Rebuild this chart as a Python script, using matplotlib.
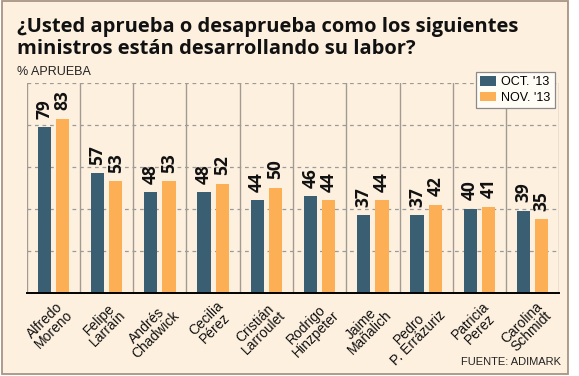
import matplotlib
matplotlib.use("Agg")
import numpy as np
from matplotlib import pyplot as plt
from matplotlib.patches import Rectangle
from matplotlib import transforms

names = ["Alfredo\nMoreno", "Felipe\nLarraín", "Andrés\nChadwick", "Cecilia\nPérez",
         "Cristián\nLarroulet", "Rodrigo\nHinzpeter", "Jaime\nMañalich",
         "Pedro\nP. Errázuriz", "Patricia\nPerez", "Carolina\nSchmidt"]
oct_13 = [79, 57, 48, 48, 44, 46, 37, 37, 40, 39]
nov_13 = [83, 53, 53, 52, 50, 44, 44, 42, 41, 35]
series_labels = ["OCT. '13", "NOV. '13"]

W, H = 579, 376
cream = "#FDF0DF"
teal = "#3B5F72"
orange = "#FCAF55"
narrow = ["Liberation Sans Narrow", "Liberation Sans"]

fig = plt.figure(figsize=(W / 100, H / 100), dpi=100)
fig.patch.set_facecolor("white")

def fx(px):
    return px / W

def fy(py):
    return 1 - py / H

# card background with border
card = Rectangle((fx(1.5), fy(373.5)), fx(568) - fx(1.5), fy(1) - fy(373.5),
                 transform=fig.transFigure, facecolor=cream, edgecolor="#A89484",
                 linewidth=1.3, zorder=-10)
fig.patches.append(card)

ax = fig.add_axes([fx(26.7), fy(292.5), fx(559.3) - fx(26.7), fy(83) - fy(292.5)])
ax.set_facecolor(cream)

x = np.arange(len(names))
bw = 0.25
off = 0.172
b1 = ax.bar(x - off, oct_13, bw, color=teal, zorder=3)
b2 = ax.bar(x + off, nov_13, bw, color=orange, zorder=3)

for bars, vals in [(b1, oct_13), (b2, nov_13)]:
    for rect, v in zip(bars, vals):
        ax.annotate(str(v), (rect.get_x() + rect.get_width() / 2, v),
                    xytext=(0, 6), textcoords="offset points",
                    rotation=90, ha="center", va="bottom",
                    fontsize=12.5, fontweight="bold", family="Open Sans",
                    color="#111111", zorder=4)

ax.set_xlim(-0.5, len(names) - 0.5)
ax.set_ylim(0, 100)

# dashed horizontal grid
for g in [20, 40, 60, 80, 100]:
    ax.axhline(g, color="#9A9A9A", linestyle=(0, (3, 3)), linewidth=0.9, zorder=1)

# vertical separators
for s in np.arange(-0.5, len(names), 1.0):
    ax.axvline(s, color="#A39A92", linewidth=1.0, zorder=2)

for side in ["top", "left", "right"]:
    ax.spines[side].set_visible(False)
ax.spines["bottom"].set_color("black")
ax.spines["bottom"].set_linewidth(1.4)
ax.spines["bottom"].set_zorder(5)
ax.set_xticks([])
ax.set_yticks([])

# rotated category labels
trans = transforms.blended_transform_factory(ax.transData, fig.transFigure)
for i, n in enumerate(names):
    t = ax.text(i, fy(299), n, transform=trans, rotation=45,
                ha="right", va="top", rotation_mode="anchor",
                multialignment="center", fontsize=10, family="Liberation Sans",
                linespacing=0.9, color="#111111")
    t.set_transform(trans + transforms.ScaledTranslation(3 / 100, 0, fig.dpi_scale_trans))

# title
fig.text(fx(17), fy(32), "¿Usted aprueba o desaprueba como los siguientes",
         fontsize=14.5, fontweight="bold", family="Open Sans", va="baseline", color="#111111")
fig.text(fx(17), fy(54), "ministros están desarrollando su labor?",
         fontsize=14.5, fontweight="bold", family="Open Sans", va="baseline", color="#111111")
fig.text(fx(17), fy(75), "% APRUEBA", fontsize=9, family="Liberation Sans",
         va="baseline", color="#222222")
fig.text(fx(561), fy(365), "FUENTE: ADIMARK", fontsize=8, family=narrow,
         ha="right", va="baseline", color="#222222")

leg = fig.legend([b1, b2], series_labels, loc="upper left",
                 bbox_to_anchor=(fx(475.7), fy(71.7)), borderaxespad=0,
                 prop={"family": narrow, "size": 9},
                 handlelength=1.3, handleheight=0.85, handletextpad=0.4,
                 labelspacing=0.25, borderpad=0.35, fancybox=False,
                 frameon=True, facecolor="#FFFCF6", edgecolor="#8A8A8A", framealpha=1)
leg.get_frame().set_linewidth(0.9)

fig.savefig("out.png", dpi=100, facecolor=fig.get_facecolor())
